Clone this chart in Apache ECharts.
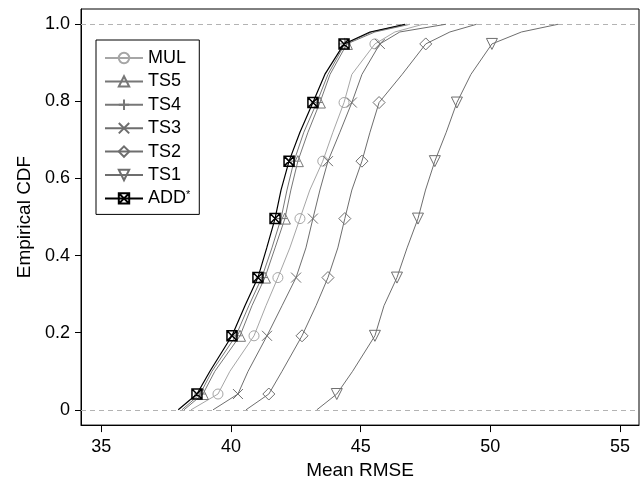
<!DOCTYPE html>
<html>
<head>
<meta charset="utf-8">
<script src="https://cdn.jsdelivr.net/npm/echarts@6/dist/echarts.min.js"></script>
<style>html,body{margin:0;padding:0;background:#fff}#c{width:642px;height:485px}</style>
</head>
<body>
<div id="c"></div>
<script>
// Cumulative probability levels at which each curve's Mean RMSE was read
const levels = [0, 0.041, 0.1, 0.192, 0.27, 0.343, 0.42, 0.496, 0.57, 0.645, 0.72, 0.797, 0.87, 0.949, 0.98, 1.0];
const markerIdx = [1, 3, 5, 7, 9, 11, 13];

const seriesNames = ['MUL', 'TS5', 'TS4', 'TS3', 'TS2', 'TS1', 'ADD'];
const mul = [38.46, 39.50, 39.96, 40.89, 41.35, 41.81, 42.27, 42.66, 43.04, 43.54, 43.93, 44.36, 44.66, 45.55, 46.32, 47.40];
const ts5 = [38.19, 38.92, 39.38, 40.35, 40.81, 41.31, 41.70, 42.08, 42.31, 42.58, 42.97, 43.43, 43.82, 44.47, 45.55, 46.90];
const ts4 = [38.11, 38.81, 39.27, 40.19, 40.69, 41.19, 41.58, 41.93, 42.16, 42.43, 42.81, 43.31, 43.74, 44.39, 45.43, 46.78];
const ts3 = [39.31, 40.27, 40.66, 41.39, 41.97, 42.51, 42.89, 43.16, 43.43, 43.74, 44.20, 44.66, 45.05, 45.74, 46.51, 48.28];
const ts2 = [40.58, 41.46, 41.97, 42.74, 43.28, 43.74, 44.12, 44.39, 44.66, 45.05, 45.36, 45.71, 46.60, 47.51, 48.44, 49.47];
const ts1 = [43.31, 44.08, 44.69, 45.55, 45.90, 46.40, 46.79, 47.21, 47.50, 47.86, 48.30, 48.71, 49.25, 50.06, 51.20, 52.61];
const add = [37.97, 38.69, 39.19, 40.04, 40.54, 41.04, 41.38, 41.70, 41.93, 42.24, 42.66, 43.16, 43.62, 44.36, 45.36, 46.71];

const xTicks = [35, 40, 45, 50, 55];
const yTicks = [0, 0.2, 0.4, 0.6, 0.8, 1.0];
const refLines = [0, 1];

const FONT = '"Liberation Sans", Arial, Helvetica, sans-serif';
const styles = {
  MUL: { color: '#a6a6a6', symbol: 'path://M10,5 A5,5 0 1,1 0,5 A5,5 0 1,1 10,5 Z', size: 10, width: 1 },
  TS5: { color: '#777777', symbol: 'path://M5,0 L10,8.7 L0,8.7 Z', size: 11, width: 1 },
  TS4: { color: '#777777', symbol: 'path://M5,0 L5,10 M0,5 L10,5', size: 12, width: 1 },
  TS3: { color: '#6e6e6e', symbol: 'path://M0,0 L10,10 M10,0 L0,10', size: 10, width: 1 },
  TS2: { color: '#6e6e6e', symbol: 'path://M5,0 L10,5 L5,10 L0,5 Z', size: 12, width: 1 },
  TS1: { color: '#6e6e6e', symbol: 'path://M0,0 L10,0 L5,8.7 Z', size: 11, width: 1 },
  ADD: { color: '#000000', symbol: 'path://M0,0 L10,0 L10,10 L0,10 Z M0,0 L10,10 M10,0 L0,10', size: 10, width: 1.2 }
};
const values = { MUL: mul, TS5: ts5, TS4: ts4, TS3: ts3, TS2: ts2, TS1: ts1, ADD: add };

const series = seriesNames.map(function (name, si) {
  const st = styles[name];
  const data = values[name].map(function (x, i) {
    const item = { value: [x, levels[i]] };
    if (markerIdx.indexOf(i) < 0) item.symbol = 'none';
    return item;
  });
  const s = {
    name: name,
    type: 'line',
    data: data,
    symbol: st.symbol,
    symbolSize: st.size,
    showSymbol: true,
    showAllSymbol: true,
    z: 2 + si,
    lineStyle: { color: st.color, width: st.width },
    itemStyle: { color: 'none', borderColor: st.color, borderWidth: name === 'ADD' ? 1.5 : 1 },
    emphasis: { disabled: true },
    animation: false
  };
  if (si === 0) {
    s.markLine = {
      silent: true,
      symbol: ['none', 'none'],
      label: { show: false },
      lineStyle: { color: '#b3b3b3', type: [5, 4], width: 1 },
      data: refLines.map(function (v) { return { yAxis: v }; }),
      animation: false
    };
  }
  return s;
});

const chart = echarts.init(document.getElementById('c'), null, { renderer: 'canvas' });
chart.setOption({
  backgroundColor: '#fff',
  animation: false,
  textStyle: { fontFamily: FONT },
  grid: { left: 81, right: 3, top: 9, bottom: 59, show: true, borderColor: '#000', borderWidth: 1, backgroundColor: 'transparent' },
  legend: {
    orient: 'vertical',
    left: 96, top: 40,
    data: seriesNames,
    itemWidth: 38, itemHeight: 13, itemGap: 5.4,
    padding: [9, 9, 7, 8],
    borderColor: '#000', borderWidth: 1, backgroundColor: '#fff',
    selectedMode: false,
    textStyle: {
      fontFamily: FONT, fontSize: 18, color: '#000',
      rich: { sup: { fontSize: 11, verticalAlign: 'top', lineHeight: 11, fontFamily: FONT, color: '#000' } }
    },
    formatter: function (n) { return n === 'ADD' ? 'ADD{sup|*}' : n; }
  },
  xAxis: {
    type: 'value', min: 34.22, max: 55.73,
    name: 'Mean RMSE', nameLocation: 'middle', nameGap: 34,
    nameTextStyle: { fontFamily: FONT, fontSize: 19, color: '#000' },
    axisLine: { show: true, onZero: false, lineStyle: { color: '#000', width: 1 } },
    axisTick: { show: true, length: 7, customValues: xTicks, lineStyle: { color: '#000' } },
    axisLabel: { customValues: xTicks, fontSize: 18, color: '#000', margin: 13, fontFamily: FONT },
    splitLine: { show: false }
  },
  yAxis: {
    type: 'value', min: -0.0396, max: 1.0396,
    name: 'Empirical CDF', nameLocation: 'middle', nameGap: 46, nameRotate: 90,
    nameTextStyle: { fontFamily: FONT, fontSize: 19, color: '#000' },
    axisLine: { show: true, onZero: false, lineStyle: { color: '#000', width: 1 } },
    axisTick: { show: true, length: 6, customValues: yTicks, lineStyle: { color: '#000' } },
    axisLabel: {
      customValues: yTicks, fontSize: 18, color: '#000', margin: 11, fontFamily: FONT,
      formatter: function (v) { return Math.abs(v) < 1e-9 ? '0' : v.toFixed(1); }
    },
    splitLine: { show: false }
  },
  series: series
});
</script>
</body>
</html>
